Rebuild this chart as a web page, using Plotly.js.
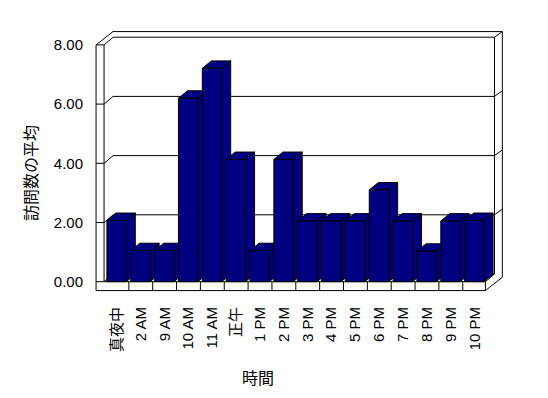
<!DOCTYPE html>
<html><head><meta charset="utf-8">
<script src="https://cdn.plot.ly/plotly-3.0.1.min.js"></script>
<style>html,body{margin:0;padding:0;background:#fff;}#chart{width:548px;height:398px;}</style>
</head><body><div id="chart"></div>
<script>
const categories = ['真夜中','2 AM','9 AM','10 AM','11 AM','正午','1 PM','2 PM','3 PM','4 PM','5 PM','6 PM','7 PM','8 PM','9 PM','10 PM'];
const values = [2.07,1.05,1.05,6.2,7.21,4.13,1.05,4.13,2.05,2.05,2.05,3.1,2.05,1.03,2.05,2.07];
const yTicks = [0,2,4,6,8];
const yTitle = '訪問数の平均';
const xTitle = '時間';

// plot area in pixels
const W=548,H=398,L=90,R=510,T=25,B=295;
// pixel scale: category width & value unit
const x0px=105, cwpx=23.85, y0px=281.7, vupx=29.6;
const xr=[(L-x0px)/cwpx,(R-x0px)/cwpx];
const yr=[(y0px-B)/vupx,(y0px-T)/vupx];

// 3D frame geometry (axis units)
const n=categories.length;
const vmax=8;
const c0=-0.04, c1=n-0.05, lx=0.335, sx=0.38, sy=0.26, tx=0.33, ty=0.19, fy=0.30;
const ba=0.08, bb=0.89, bsx=0.38, bsy=0.25;
const navy='#000080';

function poly(pts){return 'M'+pts.map(p=>p[0]+','+p[1]).join('L')+'Z';}
function line(pts){return 'M'+pts.map(p=>p[0]+','+p[1]).join('L');}

const shapes=[];
shapes.push({type:'path',xref:'x',yref:'y',layer:'below',fillcolor:'#fff',line:{color:'#000',width:1},
  path:poly([[c0-lx,-fy],[c1,-fy],[c1+sx+tx,-fy+sy+ty],[c1+sx+tx,vmax+sy+ty],[c0-lx+sx+tx,vmax+sy+ty],[c0-lx,vmax]])});
let p='';
p+=line([[c0-lx,0],[c1,0]]);
p+=line([[c1,0],[c1,-fy]]);
for(let k=1;k<n;k++) p+=line([[k,0],[k,-fy]]);
p+=line([[c1,0],[c1+sx,sy]]);
p+=line([[c0+sx,sy],[c1+sx,sy]]);
p+=line([[c1+sx,sy],[c1+sx,vmax+sy]]);
p+=line([[c0+sx,vmax+sy],[c1+sx,vmax+sy]]);
p+=line([[c1+sx,vmax+sy],[c1+sx+tx,vmax+sy+ty]]);
p+=line([[c0,0],[c0,vmax]]);
p+=line([[c0-lx,vmax],[c0,vmax]]);
p+=line([[c0,vmax],[c0+sx,vmax+sy]]);
p+=line([[c0,0],[c0+sx,sy]]);
yTicks.filter(v=>v>0&&v<vmax).forEach(v=>{
  p+=line([[c0-lx,v],[c0,v],[c0+sx,v+sy],[c1+sx,v+sy],[c1+sx+tx,v+sy+ty]]);
});
shapes.push({type:'path',xref:'x',yref:'y',layer:'below',line:{color:'#000',width:1},path:p});

const traces=[];
function face(pts){
  const xs=pts.map(q=>q[0]); const ys=pts.map(q=>q[1]);
  xs.push(pts[0][0]); ys.push(pts[0][1]);
  traces.push({type:'scatter',mode:'lines',x:xs,y:ys,fill:'toself',fillcolor:navy,
    line:{color:'#000',width:1},hoverinfo:'skip',showlegend:false});
}
values.forEach((v,i)=>{
  const a=i+ba,b=i+bb;
  face([[b,0],[b+bsx,bsy],[b+bsx,v+bsy],[b,v]]);
  face([[a,v],[b,v],[b+bsx,v+bsy],[a+bsx,v+bsy]]);
  face([[a,0],[b,0],[b,v],[a,v]]);
});

const tickFont={family:'Liberation Sans, Noto Sans CJK JP, sans-serif',size:15,color:'#000'};
const layout={
  width:W,height:H,margin:{l:L,r:W-R,t:T,b:H-B,pad:0},
  paper_bgcolor:'#fff',plot_bgcolor:'rgba(0,0,0,0)',showlegend:false,
  xaxis:{range:xr,showgrid:false,zeroline:false,showline:false,ticks:'',
    tickmode:'array',tickvals:categories.map((c,i)=>i+0.5),ticktext:categories,
    tickangle:-90,tickfont:tickFont,ticklabelstandoff:8,fixedrange:true},
  yaxis:{range:yr,showgrid:false,zeroline:false,showline:false,ticks:'',
    tickmode:'array',tickvals:yTicks,ticktext:yTicks.map(v=>v.toFixed(2)),
    tickfont:tickFont,ticklabelstandoff:6,fixedrange:true},
  shapes:shapes,
  annotations:[
    {text:yTitle,textangle:-90,xref:'paper',yref:'paper',x:(30-L)/(R-L),y:(B-173)/(B-T),
     showarrow:false,xanchor:'center',yanchor:'middle',font:{family:'Noto Sans CJK JP, sans-serif',size:16,color:'#000'}},
    {text:xTitle,xref:'paper',yref:'paper',x:(258-L)/(R-L),y:(B-377)/(B-T),
     showarrow:false,xanchor:'center',yanchor:'middle',font:{family:'Noto Sans CJK JP, sans-serif',size:16,color:'#000'}}
  ]
};
Plotly.newPlot('chart',traces,layout,{staticPlot:true,displayModeBar:false});
</script></body></html>
